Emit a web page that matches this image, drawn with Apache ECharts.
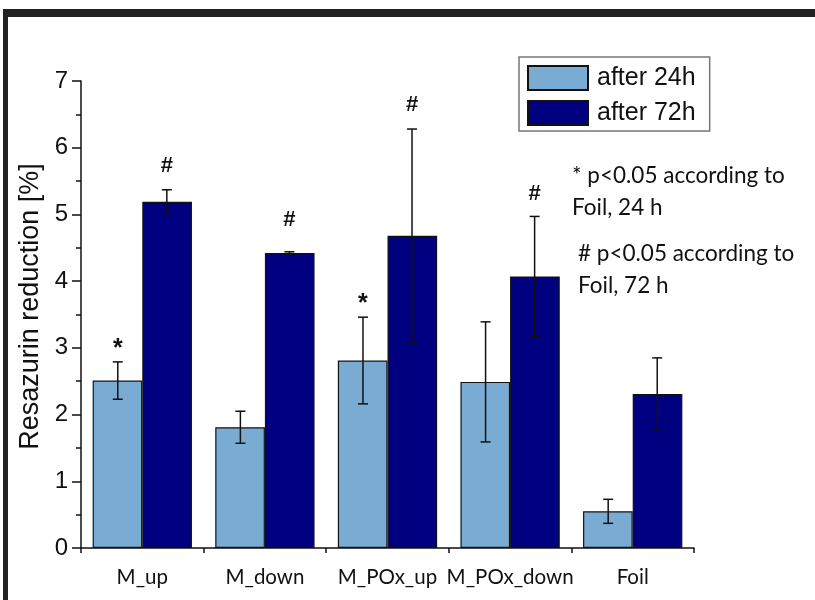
<!DOCTYPE html>
<html><head><meta charset="utf-8">
<script src="https://cdn.jsdelivr.net/npm/echarts/dist/echarts.min.js"></script>
<style>html,body{margin:0;padding:0;background:#fff}#c{width:815px;height:600px}</style>
</head><body><div id="c"></div>
<script>
const categories = ['M_up', 'M_down', 'M_POx_up', 'M_POx_down', 'Foil'];
const seriesNames = ['after 24h', 'after 72h'];
const mean24 = [2.51, 1.81, 2.81, 2.49, 0.55];
const mean72 = [5.19, 4.42, 4.68, 4.07, 2.31];
const err24 = [0.28, 0.24, 0.65, 0.90, 0.18];
const err72 = [0.18, 0.02, 1.60, 0.90, 0.54];
const mark24 = ['*', '', '*', '', ''];
const markY24 = [3.07, null, 3.75, null, null];
const mark72 = ['#', '#', '#', '#', ''];
const markY72 = [5.73, 4.92, 6.64, 5.30, null];
const yMin = 0, yMax = 7, yStep = 1;
const yAxisName = 'Resazurin reduction [%]';
const notes = ['* p<0.05 according to', 'Foil, 24 h', '# p<0.05 according to', 'Foil, 72 h'];

const LIGHT = '#7aacd3', DARK = '#000080', INK = '#111';
const ARIAL = 'Liberation Sans, Arial, sans-serif';
const CAL = 'Lato, Open Sans, sans-serif';

function errData(means, errs, side) {
  return means.map((m, i) => [i, m - errs[i], m + errs[i], side]);
}
function markData(marks, ys, side) {
  const out = [];
  marks.forEach((t, i) => { if (t && ys[i] != null) out.push([i, ys[i], side, t]); });
  return out;
}
function errRender(params, api) {
  const i = api.value(0), lo = api.value(1), hi = api.value(2), side = api.value(3);
  const band = api.size([1, 0])[0];
  const pLo = api.coord([i, lo]), pHi = api.coord([i, hi]);
  const x = pLo[0] + side * band * 0.2;
  const cap = 5;
  const st = { stroke: INK, lineWidth: 1.5 };
  return { type: 'group', children: [
    { type: 'line', shape: { x1: x, y1: pLo[1], x2: x, y2: pHi[1] }, style: st },
    { type: 'line', shape: { x1: x - cap, y1: pHi[1], x2: x + cap, y2: pHi[1] }, style: st },
    { type: 'line', shape: { x1: x - cap, y1: pLo[1], x2: x + cap, y2: pLo[1] }, style: st }
  ]};
}
function markRender(params, api) {
  const i = api.value(0), y = api.value(1), side = api.value(2);
  const t = params.dataIndex;
  const band = api.size([1, 0])[0];
  const p = api.coord([i, y]);
  const x = p[0] + side * band * 0.2;
  const txt = params.seriesName === 'm24' ? mark24Text[t] : mark72Text[t];
  const isStar = txt === '*';
  return { type: 'text', x: x, y: p[1] + (isStar ? 6 : 0),
    style: { text: txt, fill: INK, fontFamily: ARIAL, fontWeight: 'bold',
      fontSize: isStar ? 25 : 22, textAlign: 'center', textVerticalAlign: 'middle' } };
}
const m24 = markData(mark24, markY24, -1);
const m72 = markData(mark72, markY72, 1);
const mark24Text = m24.map(d => d[3]);
const mark72Text = m72.map(d => d[3]);

const chart = echarts.init(document.getElementById('c'), null, { renderer: 'canvas' });
chart.setOption({
  animation: false,
  backgroundColor: '#fff',
  grid: { left: 81, right: 121, top: 81, bottom: 52 },
  legend: {
    orient: 'vertical', left: 519, top: 57,
    icon: 'rect',
    itemWidth: 60, itemHeight: 24, itemGap: 9,
    padding: [8, 14, 5, 8],
    borderColor: '#777', borderWidth: 1.5,
    data: seriesNames,
    textStyle: { fontFamily: ARIAL, fontSize: 25, color: INK, padding: [0, 0, 0, 4] }
  },
  xAxis: [{
    type: 'category', data: categories, position: 'bottom',
    axisLine: { lineStyle: { color: INK, width: 1.5 } },
    axisTick: { alignWithLabel: true, length: 8, lineStyle: { color: INK, width: 1.5 } },
    axisLabel: { interval: 0, hideOverlap: false, fontFamily: CAL, fontSize: 20.5, color: INK, margin: 19 }
  }, {
    type: 'category', data: categories, position: 'bottom',
    axisLine: { show: false },
    axisTick: { show: true, length: 5, lineStyle: { color: INK, width: 1.5 } },
    axisLabel: { show: false }
  }],
  yAxis: {
    type: 'value', min: yMin, max: yMax, interval: yStep,
    name: yAxisName, nameLocation: 'middle', nameGap: 37, nameMoveOverlap: false,
    nameTextStyle: { fontFamily: ARIAL, fontSize: 27, color: INK, padding: [0, 0, 0, 16] },
    axisLine: { show: true, lineStyle: { color: INK, width: 1.5 } },
    axisTick: { show: true, length: 9, lineStyle: { color: INK, width: 1.5 } },
    minorTick: { show: true, splitNumber: 2, length: 5, lineStyle: { color: INK, width: 1.5 } },
    splitLine: { show: false },
    axisLabel: { fontFamily: ARIAL, fontSize: 24, color: INK, margin: 13 }
  },
  series: [
    { name: seriesNames[0], type: 'bar', data: mean24, barGap: 0, barCategoryGap: '19%',
      itemStyle: { color: LIGHT, borderColor: INK, borderWidth: 1.2 } },
    { name: seriesNames[1], type: 'bar', data: mean72, barGap: 0, barCategoryGap: '19%',
      itemStyle: { color: DARK, borderColor: INK, borderWidth: 1.2 } },
    { name: 'e24', type: 'custom', renderItem: errRender, data: errData(mean24, err24, -1), z: 5 },
    { name: 'e72', type: 'custom', renderItem: errRender, data: errData(mean72, err72, 1), z: 5 },
    { name: 'm24', type: 'custom', renderItem: markRender, data: m24.map(d => d.slice(0, 3)), z: 6 },
    { name: 'm72', type: 'custom', renderItem: markRender, data: m72.map(d => d.slice(0, 3)), z: 6 }
  ],
  graphic: [
    { type: 'rect', left: 3, top: 9, shape: { width: 5, height: 591 }, style: { fill: '#222' } },
    { type: 'rect', left: 3, top: 9, shape: { width: 812, height: 8 }, style: { fill: '#222' } },
    { type: 'text', left: 572, top: 164, style: { text: notes[0], font: '22.5px ' + CAL, fill: INK } },
    { type: 'text', left: 572, top: 196, style: { text: notes[1], font: '22.5px ' + CAL, fill: INK } },
    { type: 'text', left: 578, top: 242, style: { text: notes[2], font: '22.5px ' + CAL, fill: INK } },
    { type: 'text', left: 578, top: 274, style: { text: notes[3], font: '22.5px ' + CAL, fill: INK } }
  ]
});
</script></body></html>
